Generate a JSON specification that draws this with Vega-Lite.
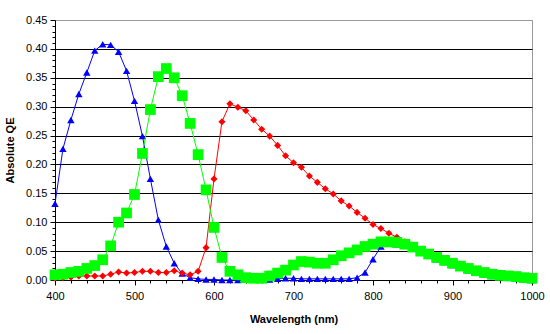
{
  "$schema": "https://vega.github.io/schema/vega-lite/v6.json",
  "width": 477,
  "height": 260,
  "autosize": {"type": "none"},
  "padding": {"left": 55, "top": 20, "right": 18, "bottom": 54},
  "background": "white",
  "config": {
    "view": {"stroke": "#999999", "strokeWidth": 1},
    "font": "Liberation Sans",
    "axis": {"labelFont": "Liberation Sans", "titleFont": "Liberation Sans", "labelColor": "#000", "titleColor": "#000", "domainColor": "#000", "tickColor": "#000"}
  },
  "datasets": {
    "blue": [
      {"wl":400,"qe":0.132},{"wl":410,"qe":0.227},{"wl":420,"qe":0.277},{"wl":430,"qe":0.322},{"wl":440,"qe":0.359},{"wl":450,"qe":0.397},{"wl":460,"qe":0.408},{"wl":470,"qe":0.407},{"wl":480,"qe":0.395},{"wl":490,"qe":0.362},
      {"wl":500,"qe":0.310},{"wl":510,"qe":0.249},{"wl":520,"qe":0.175},{"wl":530,"qe":0.104},{"wl":540,"qe":0.058},{"wl":550,"qe":0.029},{"wl":560,"qe":0.011},{"wl":570,"qe":0.004},{"wl":580,"qe":0.002},{"wl":590,"qe":0.001},
      {"wl":600,"qe":0.001},{"wl":610,"qe":0.0},{"wl":620,"qe":0.0},{"wl":630,"qe":0.0},{"wl":640,"qe":0.001},{"wl":650,"qe":0.001},{"wl":660,"qe":0.001},{"wl":670,"qe":0.001},{"wl":680,"qe":0.002},{"wl":690,"qe":0.003},
      {"wl":700,"qe":0.003},{"wl":710,"qe":0.002},{"wl":720,"qe":0.002},{"wl":730,"qe":0.002},{"wl":740,"qe":0.002},{"wl":750,"qe":0.002},{"wl":760,"qe":0.002},{"wl":770,"qe":0.002},{"wl":780,"qe":0.004},{"wl":790,"qe":0.013},
      {"wl":800,"qe":0.036},{"wl":810,"qe":0.058},{"wl":820,"qe":0.064},{"wl":830,"qe":0.062},{"wl":840,"qe":0.059},{"wl":850,"qe":0.054},{"wl":860,"qe":0.047},{"wl":870,"qe":0.042},{"wl":880,"qe":0.036},{"wl":890,"qe":0.031},
      {"wl":900,"qe":0.026},{"wl":910,"qe":0.021},{"wl":920,"qe":0.017},{"wl":930,"qe":0.013},{"wl":940,"qe":0.010},{"wl":950,"qe":0.007},{"wl":960,"qe":0.005},{"wl":970,"qe":0.004},{"wl":980,"qe":0.003},{"wl":990,"qe":0.001},{"wl":1000,"qe":0.0}
    ],
    "red": [
      {"wl":400,"qe":0.003},{"wl":410,"qe":0.004},{"wl":420,"qe":0.005},{"wl":430,"qe":0.007},{"wl":440,"qe":0.007},{"wl":450,"qe":0.007},{"wl":460,"qe":0.007},{"wl":470,"qe":0.010},{"wl":480,"qe":0.014},{"wl":490,"qe":0.012},
      {"wl":500,"qe":0.013},{"wl":510,"qe":0.015},{"wl":520,"qe":0.015},{"wl":530,"qe":0.013},{"wl":540,"qe":0.013},{"wl":550,"qe":0.016},{"wl":560,"qe":0.012},{"wl":570,"qe":0.009},{"wl":580,"qe":0.015},{"wl":590,"qe":0.056},
      {"wl":600,"qe":0.175},{"wl":610,"qe":0.274},{"wl":620,"qe":0.305},{"wl":630,"qe":0.299},{"wl":640,"qe":0.293},{"wl":650,"qe":0.277},{"wl":660,"qe":0.261},{"wl":670,"qe":0.249},{"wl":680,"qe":0.233},{"wl":690,"qe":0.215},
      {"wl":700,"qe":0.203},{"wl":710,"qe":0.195},{"wl":720,"qe":0.180},{"wl":730,"qe":0.169},{"wl":740,"qe":0.158},{"wl":750,"qe":0.149},{"wl":760,"qe":0.137},{"wl":770,"qe":0.128},{"wl":780,"qe":0.117},{"wl":790,"qe":0.107},
      {"wl":800,"qe":0.096},{"wl":810,"qe":0.089},{"wl":820,"qe":0.081},{"wl":830,"qe":0.074},{"wl":840,"qe":0.066},{"wl":850,"qe":0.058},{"wl":860,"qe":0.050},{"wl":870,"qe":0.044},{"wl":880,"qe":0.038},{"wl":890,"qe":0.033},
      {"wl":900,"qe":0.028},{"wl":910,"qe":0.023},{"wl":920,"qe":0.019},{"wl":930,"qe":0.015},{"wl":940,"qe":0.012},{"wl":950,"qe":0.009},{"wl":960,"qe":0.007},{"wl":970,"qe":0.006},{"wl":980,"qe":0.005},{"wl":990,"qe":0.003},{"wl":1000,"qe":0.002}
    ],
    "green": [
      {"wl":400,"qe":0.009},{"wl":410,"qe":0.010},{"wl":420,"qe":0.013},{"wl":430,"qe":0.015},{"wl":440,"qe":0.020},{"wl":450,"qe":0.025},{"wl":460,"qe":0.035},{"wl":470,"qe":0.059},{"wl":480,"qe":0.100},{"wl":490,"qe":0.116},
      {"wl":500,"qe":0.148},{"wl":510,"qe":0.219},{"wl":520,"qe":0.295},{"wl":530,"qe":0.352},{"wl":540,"qe":0.366},{"wl":550,"qe":0.350},{"wl":560,"qe":0.319},{"wl":570,"qe":0.271},{"wl":580,"qe":0.217},{"wl":590,"qe":0.156},
      {"wl":600,"qe":0.091},{"wl":610,"qe":0.039},{"wl":620,"qe":0.015},{"wl":630,"qe":0.009},{"wl":640,"qe":0.004},{"wl":650,"qe":0.003},{"wl":660,"qe":0.003},{"wl":670,"qe":0.007},{"wl":680,"qe":0.012},{"wl":690,"qe":0.017},
      {"wl":700,"qe":0.026},{"wl":710,"qe":0.032},{"wl":720,"qe":0.031},{"wl":730,"qe":0.029},{"wl":740,"qe":0.029},{"wl":750,"qe":0.035},{"wl":760,"qe":0.042},{"wl":770,"qe":0.047},{"wl":780,"qe":0.052},{"wl":790,"qe":0.058},
      {"wl":800,"qe":0.062},{"wl":810,"qe":0.066},{"wl":820,"qe":0.066},{"wl":830,"qe":0.065},{"wl":840,"qe":0.062},{"wl":850,"qe":0.057},{"wl":860,"qe":0.050},{"wl":870,"qe":0.045},{"wl":880,"qe":0.039},{"wl":890,"qe":0.034},
      {"wl":900,"qe":0.029},{"wl":910,"qe":0.024},{"wl":920,"qe":0.020},{"wl":930,"qe":0.016},{"wl":940,"qe":0.013},{"wl":950,"qe":0.010},{"wl":960,"qe":0.008},{"wl":970,"qe":0.007},{"wl":980,"qe":0.006},{"wl":990,"qe":0.004},{"wl":1000,"qe":0.003}
    ]
  },
  "resolve": {"axis": {"x": "independent", "y": "independent"}},
  "layer": [
    {
      "data": {"name": "blue"},
      "mark": {"type": "line", "color": "#0000FF", "strokeWidth": 1, "clip": false,
               "point": {"shape": "triangle-up", "size": 55, "filled": true, "color": "#0000FF", "strokeWidth": 0}},
      "encoding": {
        "x": {"field": "wl", "type": "quantitative", "scale": {"domain": [400, 1000], "nice": false},
              "axis": {"orient": "bottom", "values": [400, 500, 600, 700, 800, 900, 1000], "format": "d", "title": "Wavelength (nm)",
                       "titleFontSize": 11, "titleFontWeight": "bold", "titlePadding": 12, "labelFontSize": 11,
                       "labelPadding": 5, "tickSize": 5, "grid": false, "domainColor": "#000", "labelFlush": false}},
        "y": {"field": "qe", "type": "quantitative", "scale": {"domain": [0, 0.45], "nice": false},
              "axis": {"orient": "left", "values": [0, 0.05, 0.1, 0.15, 0.2, 0.25, 0.3, 0.35, 0.4, 0.45], "format": ".2f",
                       "title": "Absolute QE", "titleFontSize": 11, "titleFontWeight": "bold", "titleX": -40, "titleY": 130,
                       "labelFontSize": 11, "labelPadding": 3, "tickSize": 5, "grid": true, "gridWidth": 1,
                       "gridColor": {"condition": {"test": "datum.value >= 0.449", "value": "#999999"}, "value": "#000000"},
                       "labelFlush": false}}
      }
    },
    {
      "data": {"name": "red"},
      "mark": {"type": "line", "color": "#FF0000", "strokeWidth": 1, "clip": false,
               "point": {"shape": "diamond", "size": 50, "filled": true, "color": "#FF0000", "strokeWidth": 0}},
      "encoding": {
        "x": {"field": "wl", "type": "quantitative",
              "axis": {"orient": "bottom", "values": [420, 440, 460, 480, 520, 540, 560, 580, 620, 640, 660, 680, 720, 740, 760, 780, 820, 840, 860, 880, 920, 940, 960, 980],
                       "labels": false, "title": null, "domain": false, "grid": false, "tickSize": 3}},
        "y": {"field": "qe", "type": "quantitative",
              "axis": {"orient": "left", "values": [0.01, 0.02, 0.03, 0.04, 0.06, 0.07, 0.08, 0.09, 0.11, 0.12, 0.13, 0.14, 0.16, 0.17, 0.18, 0.19, 0.21, 0.22, 0.23, 0.24, 0.26, 0.27, 0.28, 0.29, 0.31, 0.32, 0.33, 0.34, 0.36, 0.37, 0.38, 0.39, 0.41, 0.42, 0.43, 0.44],
                       "labels": false, "title": null, "domain": false, "grid": false, "tickSize": 3}}
      }
    },
    {
      "data": {"name": "green"},
      "mark": {"type": "line", "color": "#00FF00", "strokeWidth": 1, "clip": false,
               "point": {"shape": "square", "size": 115, "filled": true, "color": "#00FF00", "strokeWidth": 0}},
      "encoding": {
        "x": {"field": "wl", "type": "quantitative", "axis": null},
        "y": {"field": "qe", "type": "quantitative", "axis": null}
      }
    }
  ]
}
